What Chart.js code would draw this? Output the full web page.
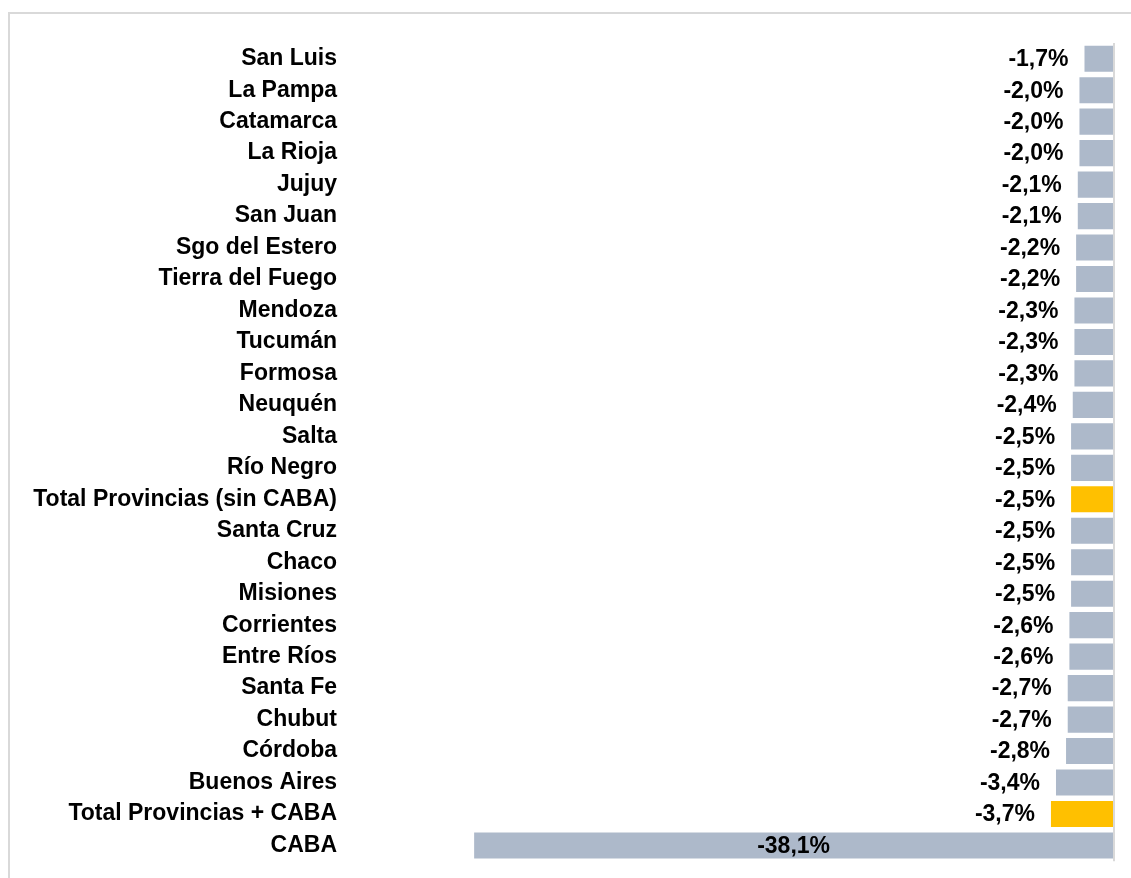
<!DOCTYPE html>
<html>
<head>
<meta charset="utf-8">
<script src="https://cdn.jsdelivr.net/npm/chart.js@4"></script>
<style>
  html, body { margin: 0; padding: 0; background: #fff; }
  #wrap { position: relative; width: 1131px; height: 878px; overflow: hidden; }
  #frame { position: absolute; left: 8px; top: 12px; width: 1200px; height: 900px; border: 2px solid #d9d9d9; box-sizing: border-box; }
  #chart { position: absolute; left: 0; top: 0; }
</style>
</head>
<body>
<div id="wrap">
  <div id="frame"></div>
  <canvas id="chart" width="1131" height="878"></canvas>
</div>
<script>
const provincias = [
  "San Luis", "La Pampa", "Catamarca", "La Rioja", "Jujuy", "San Juan",
  "Sgo del Estero", "Tierra del Fuego", "Mendoza", "Tucumán", "Formosa",
  "Neuquén", "Salta", "Río Negro", "Total Provincias (sin CABA)", "Santa Cruz",
  "Chaco", "Misiones", "Corrientes", "Entre Ríos", "Santa Fe", "Chubut",
  "Córdoba", "Buenos Aires", "Total Provincias + CABA", "CABA"
];
const variacion = [
  -1.7, -2.0, -2.0, -2.0, -2.1, -2.1,
  -2.2, -2.2, -2.3, -2.3, -2.3,
  -2.4, -2.5, -2.5, -2.5, -2.5,
  -2.5, -2.5, -2.6, -2.6, -2.7, -2.7,
  -2.8, -3.4, -3.7, -38.1
];

const GRIS = '#adb9ca';
const ORO = '#ffc000';
const FONT = { family: '"Liberation Sans", Arial, sans-serif', size: 23, weight: 'bold' };

const fmt = v => v.toFixed(1).replace('.', ',') + '%';

// linea vertical del cero + etiquetas de valor
const extras = {
  id: 'extras',
  afterDatasetsDraw(chart) {
    const ctx = chart.ctx;
    const x = chart.scales.x;
    const area = chart.chartArea;
    const x0 = x.getPixelForValue(0);
    ctx.save();
    ctx.strokeStyle = '#d9d9d9';
    ctx.lineWidth = 2;
    ctx.beginPath();
    ctx.moveTo(x0 + 1, area.top);
    ctx.lineTo(x0 + 1, area.bottom);
    ctx.stroke();

    ctx.font = `${FONT.weight} ${FONT.size}px ${FONT.family}`;
    ctx.fillStyle = '#000';
    ctx.textBaseline = 'middle';
    chart.getDatasetMeta(0).data.forEach((bar, i) => {
      const v = variacion[i];
      if (v < -20) {
        ctx.textAlign = 'center';
        ctx.fillText(fmt(v), (bar.x + bar.base) / 2, bar.y + 1);
      } else {
        ctx.textAlign = 'right';
        ctx.fillText(fmt(v), bar.x - 16, bar.y + 1);
      }
    });
    ctx.restore();
  }
};

new Chart(document.getElementById('chart'), {
  type: 'bar',
  data: {
    labels: provincias,
    datasets: [{
      data: variacion,
      backgroundColor: provincias.map(p => p.startsWith('Total') ? ORO : GRIS),
      borderWidth: 0,
      categoryPercentage: 1,
      barPercentage: 0.83
    }]
  },
  options: {
    indexAxis: 'y',
    responsive: false,
    animation: false,
    layout: { padding: { top: 43, bottom: 16, left: 0, right: 18 } },
    plugins: { legend: { display: false }, tooltip: { enabled: false } },
    scales: {
      x: { display: false, min: -46.1, max: 0 },
      y: {
        grid: { display: false, drawTicks: false },
        border: { display: false },
        ticks: { color: '#000', font: FONT, padding: 3, autoSkip: false },
        afterFit(scale) { scale.width = 340; }
      }
    }
  },
  plugins: [extras]
});
</script>
</body>
</html>
